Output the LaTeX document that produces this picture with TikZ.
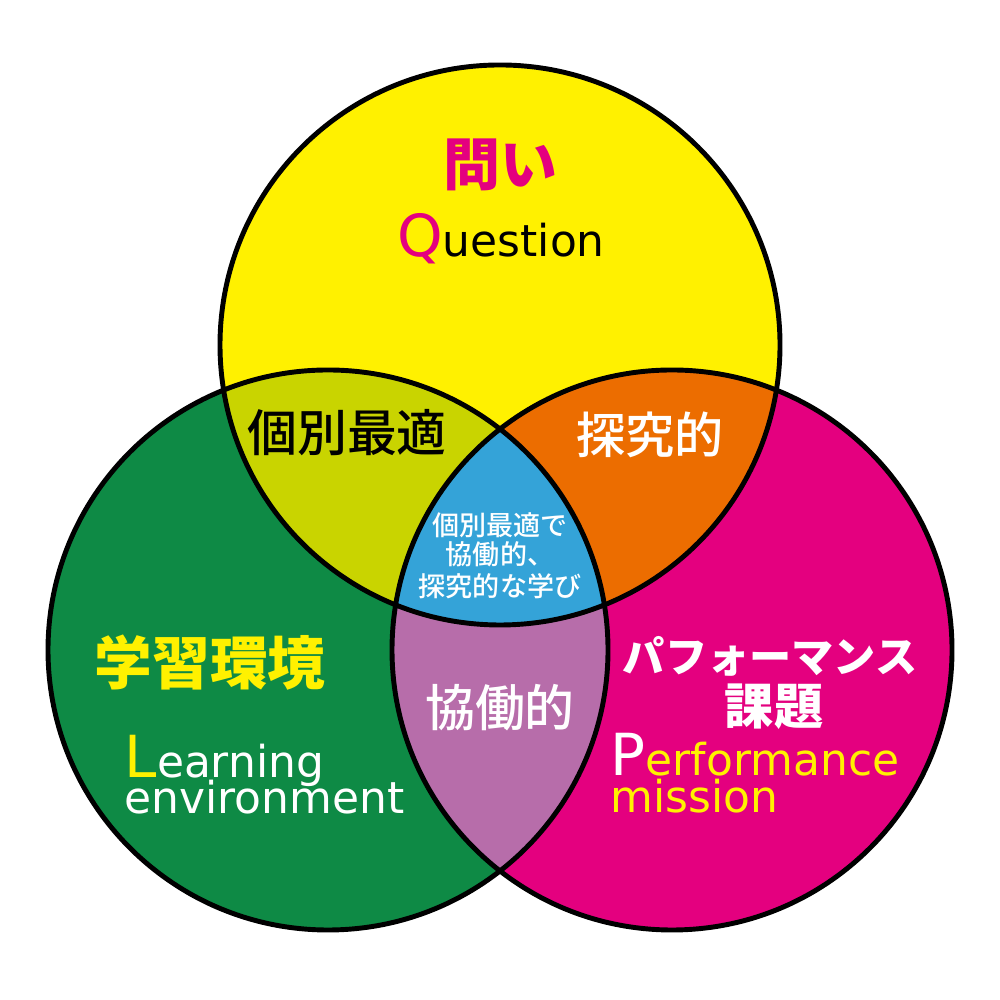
\documentclass[tikz,border=0pt]{standalone}
\usepackage{fontspec}
\setmainfont{DejaVu Sans}
\newfontfamily\jp{Noto Sans CJK JP}
\newfontfamily\jpm{Noto Sans CJK JP Medium}
\definecolor{qyellow}{HTML}{FFF100}
\definecolor{lgreen}{HTML}{0E8A45}
\definecolor{pmagenta}{HTML}{E4007F}
\definecolor{lime}{HTML}{C9D400}
\definecolor{ovorange}{HTML}{EC6D00}
\definecolor{ovpurple}{HTML}{B76DAA}
\definecolor{ovblue}{HTML}{34A3D8}
\tikzstyle{venn} = [draw=black, line width=1.4pt]
\tikzstyle{jtext} = [inner sep=0pt, font=\jp]
\tikzstyle{etext} = [inner sep=0pt, anchor=base west,
    font=\fontsize{12.5pt}{14pt}\selectfont]
\tikzstyle{etwo} = [inner sep=0pt, anchor=north west, align=left]
\newcommand{\bigfirst}[2]{{\fontsize{16.5pt}{16.5pt}\selectfont\color{#1}#2}}

\begin{document}
\setlength{\lineskiplimit}{-20pt}
\begin{tikzpicture}
                \useasboundingbox (0,0) rectangle (10,10);
                \coordinate (Q) at (5.00,6.55);
                \coordinate (L) at (3.28,3.50);
                \coordinate (P) at (6.72,3.50);
                % circles
                \fill [lgreen] (L) circle (2.8);
                \fill [pmagenta] (P) circle (2.8);
                \fill [qyellow] (Q) circle (2.8);
                % overlaps
                \begin{scope}
                \clip (Q) circle (2.8);
                \fill [lime] (L) circle (2.8);
                \fill [ovorange] (P) circle (2.8);
                \end{scope}
                \begin{scope}
                \clip (L) circle (2.8);
                \fill [ovpurple] (P) circle (2.8);
                \end{scope}
                \begin{scope}
                \clip (Q) circle (2.8);
                \clip (L) circle (2.8);
                \fill [ovblue] (P) circle (2.8);
                \end{scope}
                \path [venn] (Q) circle (2.8);
                \path [venn] (L) circle (2.8);
                \path [venn] (P) circle (2.8);
                % labels
                \node [jtext, text=pmagenta, font=\jp\bfseries\fontsize{16.2pt}{18pt}\selectfont] at (5.00,8.35) (toi) {問い};
                \node [etext, anchor=base] at (5.01,7.43) (question) {\bigfirst{pmagenta}{Q}uestion};
                \node [jtext, text=black, font=\jpm\fontsize{14.2pt}{16pt}\selectfont] at (3.47,5.67) (kobetsu) {個別最適};
                \node [jtext, text=white, font=\jpm\fontsize{14pt}{16pt}\selectfont] at (6.50,5.65) (tankyu) {探究的};
                \node [jtext, text=white, font=\jpm\fontsize{7.7pt}{9pt}\selectfont] at (5.00,4.75) (center1) {個別最適で};
                \node [jtext, text=white, font=\jpm\fontsize{7.7pt}{9pt}\selectfont] at (5.00,4.46) (center2) {協働的、};
                \node [jtext, text=white, font=\jpm\fontsize{7.7pt}{9pt}\selectfont] at (5.00,4.14) (center3) {探究的な学び};
                \node [jtext, text=white, font=\jpm\fontsize{14.2pt}{16pt}\selectfont] at (5.00,2.92) (kyodo) {協働的};
                \node [jtext, text=qyellow, font=\jp\bfseries\fontsize{16.4pt}{18pt}\selectfont] at (2.10,3.37) (gakushu) {学習環境};
                \node [etwo, text=white, font=\fontsize{12.5pt}{10pt}\selectfont] at (1.24,2.65) (learning) {\bigfirst{qyellow}{L}earning\\environment};
                \node [jtext, text=white, font=\jp\bfseries\fontsize{12pt}{14pt}\selectfont] at (7.70,3.44) (performance) {パフォーマンス};
                \node [jtext, text=white, font=\jp\bfseries\fontsize{14pt}{16pt}\selectfont] at (7.74,2.93) (kadai) {課題};
                \node [etwo, text=qyellow, font=\fontsize{12.5pt}{10.5pt}\selectfont] at (6.10,2.67) (perf) {\bigfirst{white}{P}erformance\\mission};
            \end{tikzpicture}
\end{document}
